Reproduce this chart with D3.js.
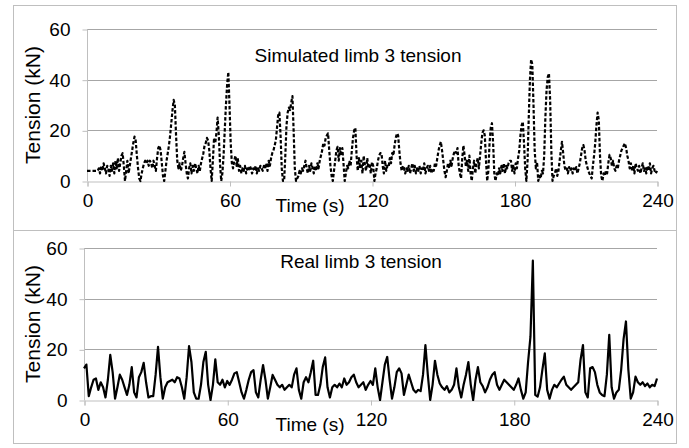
<!DOCTYPE html>
<html>
<head>
<meta charset="utf-8">
<script src="https://cdn.jsdelivr.net/npm/d3@7"></script>
<style>
  body { margin: 0; background: #fff; }
  text { font-family: "Liberation Sans", Arial, sans-serif; fill: #000; }
</style>
</head>
<body>
<div id="chart"></div>
<script>
// simulated tension, one reading every 0.5 s (0..240 s)
const simStep = 0.5;
const simulatedTension = [
  4, 4, 4, 4, 4, 4, 4, 4, 4, 4,            5, 3, 6, 4, 7, 5, 3, 6, 5, 2,
  6, 4, 7, 3, 8, 5, 9, 4, 7, 10,           11, 6, 0, 4, 8, 3, 6, 9, 12, 15,
  17.5, 16, 10, 5, 1, 0, 3, 5, 7, 8,       7, 8, 6, 8, 7, 5, 8, 6, 4, 9,
  13, 14, 12, 7, 2, 0, 4, 8, 11, 14,       18, 23, 28, 32, 30, 18, 8, 5, 7, 4,
  6, 9, 11.5, 7, 3, 1, 5, 7, 3, 6,         4, 7, 5, 3, 6, 4, 7, 9, 11, 14,
  15, 17, 16, 12, 5, 0, 8, 17, 15, 19,     25, 18, 7, 0, 3, 10, 20, 30, 38, 43,
  30, 15, 7, 5, 8, 10, 6, 9, 4, 6,         3, 5, 4, 6, 3, 5, 4, 6, 5, 3,
  5, 4, 6, 3, 5, 4, 6, 5, 4, 6,            5, 7, 4, 8, 6, 9, 11, 12, 14, 16,
  21, 26, 27, 18, 5, 0, 0, 10, 22, 27,     29, 28, 31, 33.5, 20, 5, 0, 1, 2, 4,
  3, 5, 4, 6, 8, 5, 3, 6, 4, 7,            5, 3, 6, 4, 7, 5, 8, 10, 12, 15,
  14, 17, 18, 18.8, 12, 6, 2, 0, 4, 8,     12, 13.5, 8, 13, 10, 13, 7, 0, 3, 6,
  5, 8, 6, 12, 17, 20, 21, 10, 4, 9,       5, 8, 3, 10, 6, 4, 9, 5, 7, 3,
  7.5, 6, 0, 3, 5, 8, 10, 11, 11, 6,       3, 8, 4, 6, 5.5, 9, 7, 11, 10, 14,
  17, 18.8, 18, 12, 7, 4, 6, 5, 3, 5,      4, 6, 3, 5, 7, 4, 6, 3, 5, 4,
  6, 3, 5, 4, 7, 3, 5, 6, 4, 6,            3, 5, 4, 7, 6, 9, 12, 14, 15.5, 12,
  8, 4, 1.5, 4, 7, 5, 8, 6, 9, 11,         12, 11, 13, 6, 3, 1, 9, 14, 10, 6,
  8, 4, 10, 3, 0, 5, 8, 3, 7, 9,           5, 10, 15, 19, 20, 18, 8, 0, 4, 15,
  21, 22.8, 15, 3, 0, 3, 2, 5, 3, 6,       4, 7, 3, 6, 5, 7, 8, 8, 4, 6,
  3, 7, 5, 9, 12, 18, 22, 23.4, 15, 5,     0, 8, 25, 40, 48, 46, 30, 12, 5, 7.5,
  0, 2, 1, 4, 3, 10, 25, 36, 41, 42.5,     32, 12, 0, 2, 3, 5, 2, 4, 8, 12,
  15.5, 11, 6, 4.3, 5, 3, 5.5, 4, 5, 3,    5, 4, 5.5, 3, 5, 7, 10, 13, 14.2, 12,
  8, 6, 4.3, 3, 2, 1, 6, 10, 15, 22,       27, 24, 10, 2, 0, 3, 2, 4, 3, 7,
  10.3, 9, 6, 8, 5, 4, 6, 5, 8, 10,        12, 13, 14, 14.9, 13, 10, 8, 5, 7, 4,
  6, 3, 7, 5, 4, 6, 3, 5, 7, 4,            5, 3, 6, 4, 7, 3, 5, 6, 4, 3,
  4
];
// measured tension, one reading every second (0..240 s)
const realStep = 1;
const realTension = [
  12.5, 14, 1.5, 5, 8, 8.5, 4, 7, 5, 1, 8, 17.8, 11, 0.5, 5, 10, 8, 5, 2, 6,
  13, 3, 1, 9, 11, 14.7, 7, 1, 1.5, 1.5, 10, 21, 9, 0.5, 5, 7, 7.5, 8, 7, 9,
  8.5, 5, 0.5, 9, 21.3, 15, 3, 0.5, 0.5, 6, 15, 19, 6, 0, 6, 16, 7, 6, 8, 5,
  7.5, 6, 8, 10.5, 11, 7, 3, 0.5, 4, 8, 11, 11.8, 3, 1, 8, 13.8, 8, 0.5, 5, 9.9,
  8, 6, 5, 6, 4, 5, 6, 5, 10, 12.5, 4, 0.5, 7, 9, 7, 11, 15.5, 2, 2, 6,
  13, 16.8, 5, 1, 5, 6, 5, 6.5, 5, 8.5, 6, 7, 9, 10, 7, 5, 6, 7, 4, 6,
  7.5, 6, 12.5, 5, 0, 7, 14, 17, 8, 0.5, 5, 11, 12.5, 10.5, 2, 6, 10, 7, 4, 3,
  4, 3.5, 10, 21.7, 10, 0, 6, 15.5, 10, 6.5, 5, 4, 5.5, 3, 4, 6, 12.5, 5, 1, 6,
  10, 15, 6, 0, 8, 13, 7, 5.5, 3, 5, 8, 10, 11, 6, 4, 6, 8, 7, 6, 5,
  4, 6, 8.5, 4, 0.5, 3, 15, 25, 55, 2, 1.3, 5, 12, 18.4, 4, 0.5, 4, 6, 5, 6.5,
  8, 9.2, 6, 5, 4, 5, 6, 7, 16, 21.7, 3, 1, 12.5, 13, 11, 6, 3, 2, 1.5, 10,
  25.7, 5, 0.5, 3, 4, 12, 24, 31, 12, 0.5, 3, 9.2, 7, 6, 7, 5.5, 6.5, 5, 6, 5.5,
  8.5
];
const xTicks = [0, 60, 120, 180, 240];
const yTicks = [0, 20, 40, 60];

const width = 689;
const height = 448;

const svg = d3.select("#chart")
  .append("svg")
  .attr("width", width)
  .attr("height", height);

svg.append("rect")
  .attr("width", width).attr("height", height)
  .attr("fill", "#fff");

// outer frame and divider
svg.append("rect")
  .attr("x", 13.5).attr("y", 5.5)
  .attr("width", 663).attr("height", 438)
  .attr("fill", "none").attr("stroke", "#bfbfbf");
svg.append("line")
  .attr("x1", 13.5).attr("x2", 676.5)
  .attr("y1", 230.5).attr("y2", 230.5)
  .attr("stroke", "#bfbfbf");

const panels = [
  { values: simulatedTension, step: simStep, title: "Simulated limb 3 tension", dash: "3.5,2",
    left: 87, right: 657, top: 29, bottom: 181, titleX: 358, titleY: 62 },
  { values: realTension, step: realStep, title: "Real limb 3 tension", dash: null,
    left: 84, right: 657, top: 248, bottom: 400, titleX: 361, titleY: 268 }
];

panels.forEach(p => {
  const x = d3.scaleLinear().domain([0, 240]).range([p.left, p.right]);
  const y = d3.scaleLinear().domain([0, 60]).range([p.bottom, p.top]);
  const g = svg.append("g");

  // gridlines
  g.selectAll(".grid")
    .data(yTicks.slice(1))
    .enter().append("line")
    .attr("x1", p.left).attr("x2", p.right)
    .attr("y1", d => Math.round(y(d)) + 0.5).attr("y2", d => Math.round(y(d)) + 0.5)
    .attr("stroke", "#a6a6a6");

  const yAxis = d3.axisLeft(y).tickValues(yTicks).tickSize(5).tickPadding(12);
  const xAxis = d3.axisBottom(x).tickValues(xTicks).tickSize(5).tickPadding(7);

  const ya = g.append("g")
    .attr("transform", `translate(${p.left + 0.5},0.5)`)
    .call(yAxis);
  const xa = g.append("g")
    .attr("transform", `translate(0.5,${p.bottom + 0.5})`)
    .call(xAxis);

  [ya, xa].forEach(a => {
    a.select(".domain").attr("stroke", "#bfbfbf");
    a.selectAll(".tick line").attr("stroke", "#bfbfbf");
    a.selectAll(".tick text")
      .attr("font-size", 19)
      .attr("font-family", "Liberation Sans, Arial, sans-serif")
      .attr("fill", "#000");
  });
  ya.select(".domain").attr("d", `M0,${p.bottom}V${p.top}`);
  ya.selectAll(".tick line").attr("x2", -5);

  const line = d3.line()
    .x((d, i) => x(i * p.step))
    .y(d => y(d));

  g.append("path")
    .datum(p.values)
    .attr("d", line)
    .attr("fill", "none")
    .attr("stroke", "#000")
    .attr("stroke-width", 2.2)
    .attr("stroke-linejoin", "round")
    .attr("stroke-dasharray", p.dash);

  g.append("text")
    .attr("x", p.titleX).attr("y", p.titleY)
    .attr("text-anchor", "middle")
    .attr("font-size", 19)
    .text(p.title);

  g.append("text")
    .attr("x", 310).attr("y", p.bottom + 31)
    .attr("text-anchor", "middle")
    .attr("font-size", 19)
    .text("Time (s)");

  g.append("text")
    .attr("transform", `translate(40,${(p.top + p.bottom) / 2}) rotate(-90)`)
    .attr("text-anchor", "middle")
    .attr("font-size", 21)
    .text("Tension (kN)");
});
</script>
</body>
</html>
